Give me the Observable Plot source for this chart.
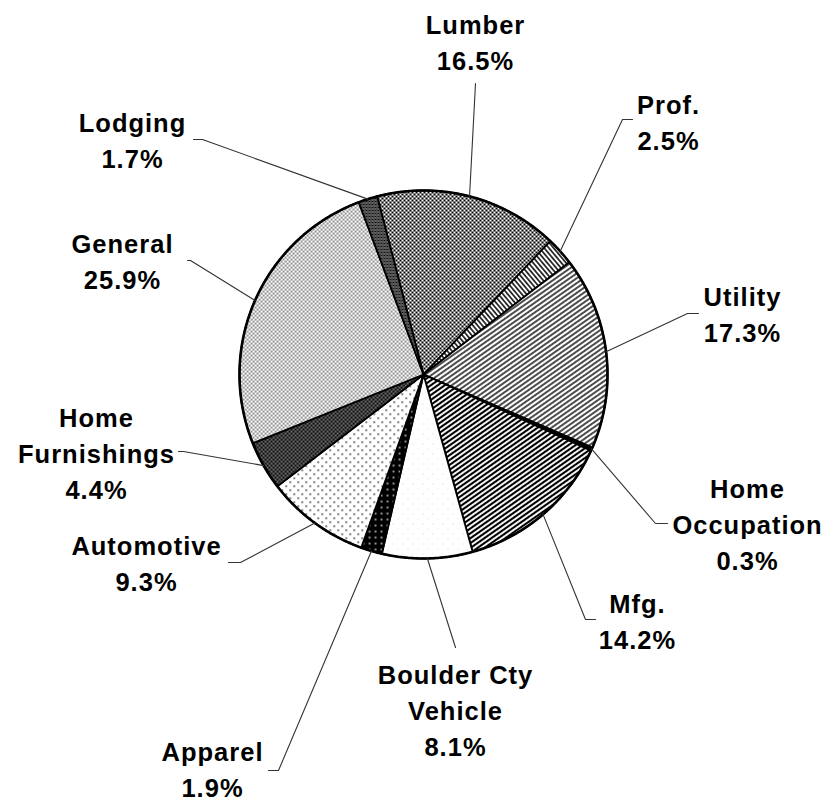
<!DOCTYPE html>
<html><head><meta charset="utf-8">
<script src="https://cdn.jsdelivr.net/npm/d3@7"></script>
<script src="https://cdn.jsdelivr.net/npm/@observablehq/plot@0.6"></script>
<style>
body{margin:0;background:#fff}
#chart svg text{letter-spacing:1px}
</style>
</head><body>
<svg width="0" height="0" style="position:absolute">
<defs>
  <pattern id="p0" width="4" height="4" patternUnits="userSpaceOnUse">
    <rect width="4" height="4" fill="#fff"/>
    <path d="M0,0L4,4M4,0L0,4" stroke="#000" stroke-width="1"/>
  </pattern>
  <pattern id="p1" width="3.6" height="3.6" patternUnits="userSpaceOnUse" patternTransform="rotate(-40)">
    <rect width="3.6" height="3.6" fill="#fff"/>
    <path d="M1.8,0V3.6" stroke="#000" stroke-width="1.5"/>
  </pattern>
  <pattern id="p2" width="4" height="4" patternUnits="userSpaceOnUse" patternTransform="rotate(-35)">
    <rect width="4" height="4" fill="#fff"/>
    <path d="M0,2H4" stroke="#000" stroke-width="1.4"/>
  </pattern>
  <pattern id="p3" width="4" height="4" patternUnits="userSpaceOnUse">
    <rect width="4" height="4" fill="#000"/>
  </pattern>
  <pattern id="p4" width="4" height="4" patternUnits="userSpaceOnUse" patternTransform="rotate(-35)">
    <rect width="4" height="4" fill="#fff"/>
    <path d="M0,2H4" stroke="#000" stroke-width="2.1"/>
  </pattern>
  <pattern id="p5" width="10" height="10" patternUnits="userSpaceOnUse">
    <rect width="10" height="10" fill="#fff"/>
    <rect x="2" y="3" width="0.8" height="0.8" fill="#bbb"/>
    <rect x="7" y="8" width="0.8" height="0.8" fill="#ccc"/>
  </pattern>
  <pattern id="p6" width="6" height="6" patternUnits="userSpaceOnUse">
    <rect width="6" height="6" fill="#000"/>
    <rect x="2.3" y="2.3" width="1.5" height="1.5" fill="#fff"/>
  </pattern>
  <pattern id="p7" width="8" height="8" patternUnits="userSpaceOnUse">
    <rect width="8" height="8" fill="#fff"/>
    <rect x="1" y="1" width="1.4" height="1.4" fill="#000"/>
    <rect x="5" y="5" width="1.4" height="1.4" fill="#000"/>
  </pattern>
  <pattern id="p8" width="4" height="4" patternUnits="userSpaceOnUse">
    <rect width="4" height="4" fill="#111"/>
    <rect x="0.5" y="0.5" width="1.2" height="1.2" fill="#fff"/>
    <rect x="2.5" y="2.5" width="1.2" height="1.2" fill="#fff"/>
  </pattern>
  <pattern id="p9" width="4" height="4" patternUnits="userSpaceOnUse">
    <rect width="4" height="4" fill="#fff"/>
    <rect x="0.5" y="0.5" width="1.3" height="1.3" fill="#000"/>
    <rect x="2.5" y="2.5" width="1.3" height="1.3" fill="#000"/>
  </pattern>
  <pattern id="p10" width="3" height="3" patternUnits="userSpaceOnUse">
    <rect width="3" height="3" fill="#fff"/>
    <path d="M0,0L3,3M3,0L0,3" stroke="#000" stroke-width="1.1"/>
  </pattern>
</defs>
</svg>
<div id="chart"></div>
<script>
// ---- data ----
const categories = ["Lumber", "Prof.", "Utility", "Home\nOccupation", "Mfg.", "Boulder Cty\nVehicle", "Apparel", "Automotive", "Home\nFurnishings", "General", "Lodging"];
const shares = [16.5, 2.5, 17.3, 0.3, 14.2, 8.1, 1.9, 9.3, 4.4, 25.9, 1.7];
const shareLabels = ["16.5%", "2.5%", "17.3%", "0.3%", "14.2%", "8.1%", "1.9%", "9.3%", "4.4%", "25.9%", "1.7%"];

// ---- layout ----
const W = 829, H = 803, CX = 423, CY = 374, R = 184, START_DEG = -14.6;
const labelLayout = [
  {x: 475, y: 40,  leader: [[475, 83]]},
  {x: 668, y: 120, leader: [[622, 119], [632, 119]]},
  {x: 742, y: 312, leader: [[687, 313], [698, 313]]},
  {x: 747, y: 522, leader: [[655, 523], [667, 523]]},
  {x: 637, y: 619, leader: [[585, 619], [595, 619]]},
  {x: 455, y: 708, leader: [[455, 647]]},
  {x: 212, y: 767, leader: [[278, 770], [268, 770]]},
  {x: 146, y: 561, leader: [[240, 562], [228, 562]]},
  {x: 96,  y: 451, leader: [[183, 451], [178, 451]]},
  {x: 122, y: 259, leader: [[190, 260], [187, 260]]},
  {x: 132, y: 138, leader: [[202, 139], [193, 139]]}
];

const toData = ([px, py]) => ({x: (px - CX) / R, y: (CY - py) / R});
const polar = (deg, r = 1) => ({x: r * Math.sin(deg * Math.PI / 180), y: r * Math.cos(deg * Math.PI / 180)});

const total = d3.sum(shares);
let acc = START_DEG;
const slices = shares.map((v, i) => {
  const a0 = acc, a1 = acc + v / total * 360;
  acc = a1;
  const pts = [{x: 0, y: 0}];
  const n = Math.max(2, Math.ceil((a1 - a0) / 0.25));
  for (let k = 0; k <= n; k++) pts.push(polar(a0 + (a1 - a0) * k / n));
  pts.push({x: 0, y: 0});
  return {i, a0, a1, mid: (a0 + a1) / 2, pts};
});

const circle = d3.range(0, 361, 0.5).map(d => polar(d));

const leaders = slices.map(s => [polar(s.mid), ...labelLayout[s.i].leader.map(toData)]);
const labels = categories.map((c, i) => ({
  text: c + "\n" + shareLabels[i],
  ...toData([labelLayout[i].x, labelLayout[i].y])
}));

const marks = [
  ...slices.map(s => Plot.line(s.pts, {x: "x", y: "y", fill: `url(#p${s.i})`, stroke: "#000", strokeWidth: 1.8, strokeLinejoin: "miter", strokeMiterlimit: 4})),
  Plot.line(circle, {x: "x", y: "y", stroke: "#000", strokeWidth: 2.6}),
  ...leaders.map(l => Plot.line(l, {x: "x", y: "y", stroke: "#333", strokeWidth: 1.1, strokeLinejoin: "miter"})),
  Plot.text(labels, {x: "x", y: "y", text: "text", fontSize: 25.5, fontWeight: "bold", fontFamily: "Liberation Sans, Arial, sans-serif", lineHeight: 1.4, textAnchor: "middle", lineAnchor: "middle", fill: "#000"})
];

const chart = Plot.plot({
  width: W, height: H,
  margin: 0,
  x: {domain: [-CX / R, (W - CX) / R], axis: null},
  y: {domain: [-(H - CY) / R, CY / R], axis: null},
  style: {background: "#fff"},
  marks
});
document.getElementById("chart").appendChild(chart);
</script>
</body></html>
